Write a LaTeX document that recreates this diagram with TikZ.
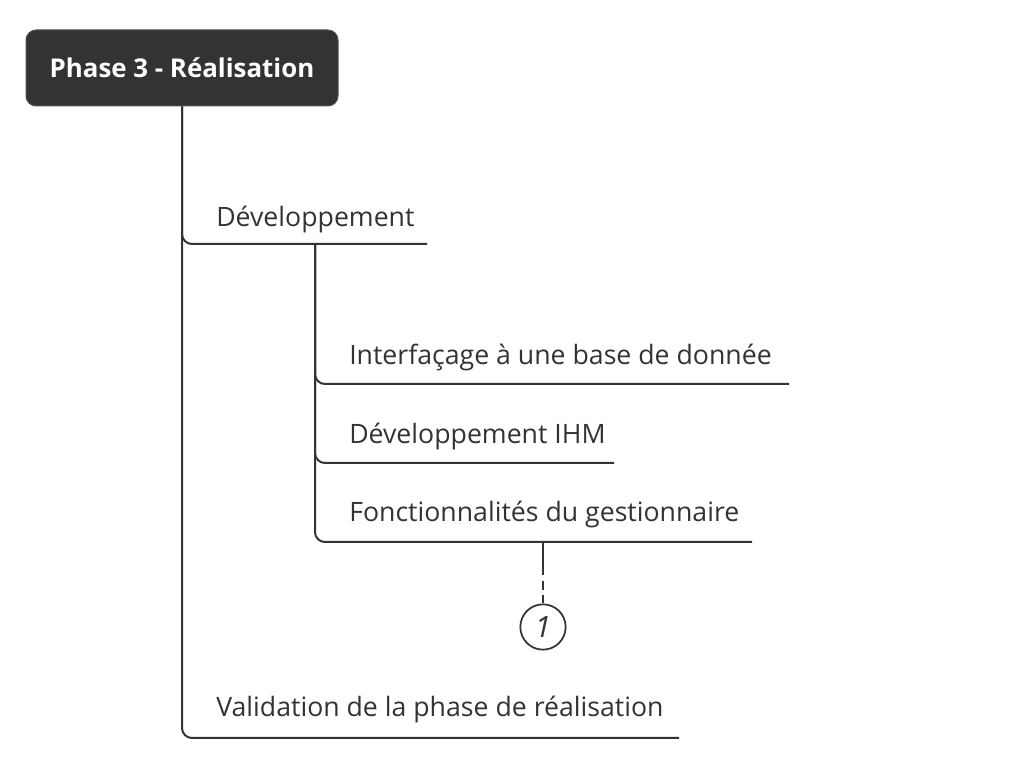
\documentclass[tikz,border=0pt]{standalone}
\usepackage{fontspec}
\setmainfont{Open Sans}
\usetikzlibrary{calc}
\definecolor{ink}{HTML}{333333}
\tikzset{
  topic/.style={draw=ink!85, fill=ink, rounded corners=7.5pt, text=white, font=\bfseries\fontsize{19.4}{22}\selectfont, minimum width=234pt, minimum height=57pt, line width=0.75pt},
  leaf/.style={text=ink, font=\fontsize{20}{24}\selectfont, anchor=base west, inner sep=0pt},
  branch/.style={draw=ink, line width=1.5pt, rounded corners=7.5pt},
  marker/.style={draw=ink, circle, line width=1.3pt, minimum size=34pt, inner sep=0pt, text=ink, font=\itshape\fontsize{22}{24}\selectfont}
}
\begin{document}
\begin{tikzpicture}[x=0.75pt, y=-0.75pt]
			%%%%% START %%%%%
			\useasboundingbox (0, 0) rectangle (1026, 773);
			
			\node[topic] (root) at (182, 68) {Phase 3 - Réalisation};
			
			\node[leaf] (dev) at (216, 227) {Développement};
			\coordinate (dev-e) at (427, 244);
			\coordinate (dev-s) at (315, 244);
			
			\node[leaf] (int) at (349, 365) {Interfaçage à une base de donnée};
			\coordinate (int-e) at (789, 384);
			
			\node[leaf] (ihm) at (349, 444) {Développement IHM};
			\coordinate (ihm-e) at (614, 463);
			
			\node[leaf] (fon) at (349, 522) {Fonctionnalités du gestionnaire};
			\coordinate (fon-e) at (752, 542);
			\coordinate (fon-m) at (543, 542);
			\coordinate (fon-d) at (543, 566);
			
			\node[leaf] (val) at (216, 717) {Validation de la phase de réalisation};
			\coordinate (val-e) at (679, 738);
			
			\node[marker] (one) at (543, 627) {1};
			
			% spine and branches
			\draw[branch] (root.south) |- (dev-e);
			\draw[branch] (root.south) |- (val-e);
			\draw[branch] (dev-s) |- (int-e);
			\draw[branch] (dev-s) |- (ihm-e);
			\draw[branch] (dev-s) |- (fon-e);
			
			\draw[draw=ink, line width=1.5pt] (fon-m) -- (fon-d);
			\draw[draw=ink, line width=1.5pt, dash pattern=on 7pt off 4pt] (fon-d) -- (one.north);
			
			%%%%% END %%%%%
		\end{tikzpicture}
\end{document}
